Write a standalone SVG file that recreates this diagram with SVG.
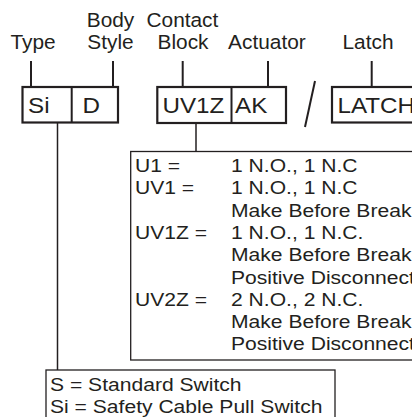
<svg xmlns="http://www.w3.org/2000/svg" width="412" height="417" viewBox="0 0 412 417">
<style>
text { font-family: "Liberation Sans", Arial, Helvetica, sans-serif; fill: #231f20; }
.h { font-size: 19.5px; text-anchor: middle; }
.b { font-size: 22px; }
.d { font-size: 18.5px; }
.box { fill: #ffffff; stroke: #231f20; stroke-width: 2.2; }
.leg { fill: #ffffff; stroke: #231f20; stroke-width: 1.3; }
.ln { stroke: #231f20; stroke-width: 2; fill: none; }
.ln2 { stroke: #231f20; stroke-width: 1.5; fill: none; }
</style>
<rect width="412" height="417" fill="#ffffff"/>

<g id="connectors">
  <line class="ln" x1="31" y1="61" x2="31" y2="87"/>
  <line class="ln" x1="113" y1="61" x2="113" y2="87"/>
  <line class="ln" x1="182.7" y1="61" x2="182.7" y2="87"/>
  <line class="ln" x1="268" y1="61" x2="268" y2="87"/>
  <line class="ln" x1="371.7" y1="61" x2="371.7" y2="87"/>
  <line class="ln2" x1="57.5" y1="122" x2="57.5" y2="370"/>
  <line class="ln2" x1="196" y1="123" x2="196" y2="151.5"/>
</g>

<g id="labels">
  <text class="h" transform="translate(110.5,26.7) scale(1.07,1)">Body</text>
  <text class="h" transform="translate(182.4,26.7) scale(1.07,1)">Contact</text>
  <text class="h" transform="translate(33,49) scale(1.07,1)">Type</text>
  <text class="h" transform="translate(110.5,49) scale(1.07,1)">Style</text>
  <text class="h" transform="translate(183,49) scale(1.07,1)">Block</text>
  <text class="h" transform="translate(266.9,49) scale(1.07,1)">Actuator</text>
  <text class="h" transform="translate(368,49) scale(1.07,1)">Latch</text>
</g>

<g id="node-type-body">
  <rect class="box" x="22.5" y="87" width="95.5" height="35.5"/>
  <line class="ln" x1="71.7" y1="87" x2="71.7" y2="122.5"/>
  <text class="b" transform="translate(28,112.7) scale(1.1,1)">Si</text>
  <text class="b" transform="translate(82.5,112.7) scale(1.1,1)">D</text>
</g>

<g id="node-contact-actuator">
  <rect class="box" x="157.3" y="87" width="128.7" height="36"/>
  <line class="ln" x1="231.5" y1="87" x2="231.5" y2="123"/>
  <text class="b" transform="translate(162.5,112.7) scale(1.1,1)">UV1Z</text>
  <text class="b" transform="translate(235,112.7) scale(1.1,1)">AK</text>
</g>

<g id="separator">
  <line class="ln" x1="315" y1="81" x2="305" y2="127"/>
</g>

<g id="node-latch">
  <rect class="box" x="332" y="87" width="100" height="35.5"/>
  <text class="b" transform="translate(337.5,112.7) scale(1.1,1)">LATCH</text>
</g>

<g id="node-contact-legend">
  <rect class="leg" x="130.7" y="151.5" width="300" height="208.5"/>
  <text class="d" transform="translate(135,172) scale(1.14,1)">U1 =</text>
  <text class="d" transform="translate(231,172) scale(1.14,1)">1 N.O., 1 N.C</text>
  <text class="d" transform="translate(135,194.3) scale(1.14,1)">UV1 =</text>
  <text class="d" transform="translate(231,194.3) scale(1.14,1)">1 N.O., 1 N.C</text>
  <text class="d" transform="translate(231,216.6) scale(1.14,1)">Make Before Break</text>
  <text class="d" transform="translate(135,238.9) scale(1.14,1)">UV1Z =</text>
  <text class="d" transform="translate(231,238.9) scale(1.14,1)">1 N.O., 1 N.C.</text>
  <text class="d" transform="translate(231,261.2) scale(1.14,1)">Make Before Break</text>
  <text class="d" transform="translate(231,283.5) scale(1.14,1)">Positive Disconnect</text>
  <text class="d" transform="translate(135,305.8) scale(1.14,1)">UV2Z =</text>
  <text class="d" transform="translate(231,305.8) scale(1.14,1)">2 N.O., 2 N.C.</text>
  <text class="d" transform="translate(231,328.1) scale(1.14,1)">Make Before Break</text>
  <text class="d" transform="translate(231,350.4) scale(1.14,1)">Positive Disconnect</text>
</g>

<g id="node-type-legend">
  <rect class="leg" x="46" y="370" width="289" height="60"/>
  <text class="d" transform="translate(50,391) scale(1.14,1)">S = Standard Switch</text>
  <text class="d" transform="translate(50,413.3) scale(1.14,1)">Si = Safety Cable Pull Switch</text>
</g>
</svg>
